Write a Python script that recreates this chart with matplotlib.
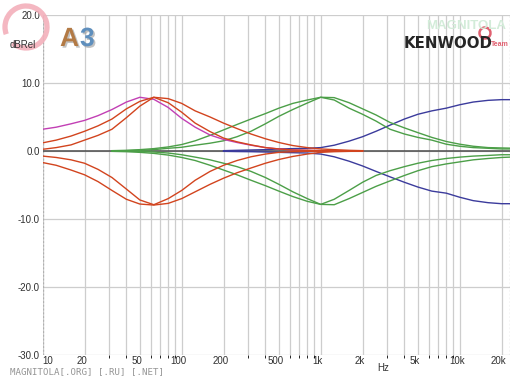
import matplotlib
matplotlib.use("Agg")
import matplotlib.pyplot as plt
from matplotlib.patches import Arc
from matplotlib.transforms import ScaledTranslation
import matplotlib.patheffects as pe

plt.rcParams['font.family'] = ['Liberation Sans', 'DejaVu Sans']

freq = [10, 12.5, 16, 20, 25, 31.5, 40, 50, 63, 80, 100, 125, 160, 200, 250, 315,
        400, 500, 630, 800, 1000, 1250, 1600, 2000, 2500, 3150, 4000, 5000, 6300,
        8000, 10000, 12500, 16000, 20000, 23000]

# low band (index 0..23 -> 10 Hz .. 2 kHz)
low_magenta = [3.2, 3.5, 4.0, 4.5, 5.2, 6.1, 7.2, 7.9, 7.6, 6.4, 4.8, 3.5, 2.35, 1.7,
               1.25, 0.85, 0.5, 0.3, 0.15, 0.1, 0.05, 0.0, 0.0, 0.0]
low_peak_narrow = [0.25, 0.5, 0.9, 1.6, 2.3, 3.2, 4.9, 6.6, 7.9, 7.1, 5.7, 4.1, 2.85, 1.9,
                   1.35, 0.9, 0.5, 0.3, 0.15, 0.1, 0.05, 0.0, 0.0, 0.0]
low_peak_wide = [1.2, 1.6, 2.2, 2.9, 3.7, 4.7, 6.2, 7.3, 7.9, 7.7, 7.0, 5.9, 5.0, 4.1,
                 3.3, 2.5, 1.8, 1.25, 0.8, 0.5, 0.3, 0.2, 0.1, 0.05]
low_cut_narrow = [-0.75, -0.95, -1.3, -1.8, -2.7, -3.9, -5.6, -7.2, -7.9, -7.0, -5.8, -4.3,
                  -3.0, -2.1, -1.4, -0.85, -0.45, -0.2, -0.1, -0.05, -0.02, 0.0, 0.0, 0.0]
low_cut_wide = [-1.7, -2.1, -2.8, -3.5, -4.5, -5.8, -7.1, -7.8, -7.95, -7.7, -7.0, -6.0,
                -4.9, -4.0, -3.2, -2.5, -1.8, -1.25, -0.8, -0.45, -0.2, -0.1, -0.05, 0.0]

# mid band (index 5..34 -> 31.5 Hz .. 23 kHz)
mid_peak_wide = [0.05, 0.1, 0.2, 0.35, 0.6, 0.95, 1.5, 2.3, 3.1, 3.9, 4.7, 5.5, 6.3, 7.0,
                 7.5, 7.9, 7.85, 7.1, 6.2, 5.3, 4.2, 3.4, 2.7, 2.0, 1.4, 1.0, 0.7, 0.5,
                 0.45, 0.42]
mid_peak_narrow = [0.0, 0.05, 0.1, 0.2, 0.4, 0.55, 0.85, 1.15, 1.5, 2.1, 2.9, 4.0, 5.1,
                   6.1, 7.05, 7.9, 7.5, 6.3, 5.4, 4.4, 3.2, 2.5, 2.0, 1.6, 1.0, 0.7, 0.5,
                   0.4, 0.3, 0.3]
mid_cut_wide = [-0.05, -0.1, -0.2, -0.35, -0.6, -0.95, -1.4, -2.1, -2.8, -3.5, -4.3, -5.1,
                -5.9, -6.7, -7.4, -7.85, -7.9, -7.0, -6.1, -5.2, -4.4, -3.6, -2.9, -2.3,
                -1.9, -1.6, -1.3, -1.1, -0.95, -0.9]
mid_cut_narrow = [0.0, -0.02, -0.05, -0.15, -0.3, -0.55, -0.9, -1.3, -1.8, -2.3, -3.0, -3.9,
                  -4.9, -6.0, -7.0, -7.85, -7.1, -5.8, -4.6, -3.6, -2.9, -2.3, -1.8, -1.4,
                  -1.1, -0.9, -0.75, -0.65, -0.55, -0.55]

# high shelf (index 13..34 -> 200 Hz .. 23 kHz)
high_boost = [0.05, 0.1, 0.15, 0.2, 0.3, 0.35, 0.4, 0.5, 0.85, 1.45, 2.1, 2.9, 3.8, 4.7,
              5.4, 5.9, 6.3, 6.8, 7.2, 7.45, 7.55, 7.55]
high_cut = [-0.05, -0.08, -0.1, -0.15, -0.2, -0.25, -0.3, -0.45, -0.85, -1.5, -2.2, -3.0,
            -3.8, -4.6, -5.3, -5.9, -6.2, -6.8, -7.3, -7.6, -7.75, -7.75]

flat = [0.0] * len(freq)

x_labels = {10: "10", 20: "20", 50: "50", 100: "100", 200: "200", 500: "500",
            1000: "1k", 2000: "2k", 5000: "5k", 10000: "10k", 20000: "20k"}
y_ticks = [20, 10, 0, -10, -20, -30]

RED = "#d2441e"
MAGENTA = "#c23fb4"
GREEN = "#4c9f48"
BLUE = "#3b3b9c"
GRID = "#cdcdcd"
TXT = "#303030"

fig = plt.figure(figsize=(5.26, 3.77), dpi=100)
ax = fig.add_axes([42.7 / 526, 1 - 355 / 377, (510 - 42.7) / 526, 340 / 377])
ax.set_xscale("log")
ax.set_xlim(10, 23000)
ax.set_ylim(-30, 20)

# grid
grid_f = [m * 10 ** d for d in range(1, 5) for m in range(1, 10) if m * 10 ** d < 23000]
for f in grid_f:
    ax.axvline(f, color=GRID, lw=0.9, zorder=0)
for y in y_ticks:
    ax.axhline(y, color=GRID, lw=0.9, zorder=0)

for s in ax.spines.values():
    s.set_visible(False)
ax.axvline(10, color="#b0b0b0", lw=0.9, ls=(0, (1.5, 1.5)), zorder=0)
ax.axvline(23000, color="#b0b0b0", lw=0.9, ls=(0, (1.5, 1.5)), zorder=0)

ax.set_xticks(list(x_labels.keys()))
ax.set_xticklabels(list(x_labels.values()))
ax.set_yticks(y_ticks)
ax.set_yticklabels([f"{v:.1f}" for v in y_ticks])
ax.tick_params(length=0, labelsize=7, labelcolor=TXT, pad=2)
ax.tick_params(axis="x", pad=0.5)

# x labels sit a little left of their grid line, the first one starts on it
shift = ScaledTranslation(-3 / 100, 0, fig.dpi_scale_trans)
xt = ax.get_xticklabels()
for lab in xt[1:]:
    lab.set_transform(lab.get_transform() + shift)
xt[0].set_ha("left")

lw = 1.0
f_low = freq[:24]
f_mid = freq[5:]
f_high = freq[13:]
ax.plot(freq, flat, color="#4a4a4a", lw=1.1, zorder=2)
ax.plot(f_high, high_boost, color=BLUE, lw=lw, zorder=3)
ax.plot(f_high, high_cut, color=BLUE, lw=lw, zorder=3)
for vals in (mid_peak_wide, mid_peak_narrow, mid_cut_wide, mid_cut_narrow):
    ax.plot(f_mid, vals, color=GREEN, lw=lw, zorder=3)
ax.plot(f_low, low_magenta, color=MAGENTA, lw=lw, zorder=3)
for vals in (low_peak_narrow, low_peak_wide, low_cut_narrow, low_cut_wide):
    ax.plot(f_low, vals, color=RED, lw=lw, zorder=4)

# axis captions
fig.text(10 / 526, 1 - 45 / 377, "dBRel", fontsize=7, color=TXT, va="center", zorder=5)
fig.text(383 / 526, 1 - 368 / 377, "Hz", fontsize=7, color=TXT, ha="center", va="center")
fig.text(10 / 526, 1 - 371.5 / 377, "MAGNITOLA[.ORG] [.RU] [.NET]", fontsize=6.6,
         family=["DejaVu Sans Mono"], color="#959595", va="center")

# logos
ring = Arc((26, 377 - 27), 42, 42, theta1=-130, theta2=200, transform=None,
           color="#f3b0bb", lw=3.8, alpha=0.9, zorder=1)
fig.patches.append(ring)
shadow = [pe.withSimplePatchShadow(offset=(1.2, -1.2), shadow_rgbFace="#9a9a9a", alpha=0.6)]
fig.text(79 / 526, 1 - 39 / 377, "A", fontsize=19, fontweight="bold", color="#b37a45",
         ha="right", va="center", path_effects=shadow)
fig.text(80 / 526, 1 - 39 / 377, "3", fontsize=19, fontweight="bold", color="#5f8fbd",
         ha="left", va="center", path_effects=shadow)
fig.text(466 / 526, 1 - 26 / 377, "MAGNITOLA", fontsize=9.5, fontweight="bold",
         color="#d3ecd9", ha="center", va="center")
fig.text(448 / 526, 1 - 44 / 377, "KENWOOD", fontsize=10.8, fontweight="bold",
         family=["DejaVu Sans"], color="#262626", ha="center", va="center")
fig.text(500 / 526, 1 - 45 / 377, "Team", fontsize=5, fontweight="bold",
         color="#e06070", ha="center", va="center")
ring2 = Arc((485, 377 - 33), 11, 11, transform=None, color="#e06070", lw=1.8)
fig.patches.append(ring2)

fig.savefig("out.png", dpi=100)
